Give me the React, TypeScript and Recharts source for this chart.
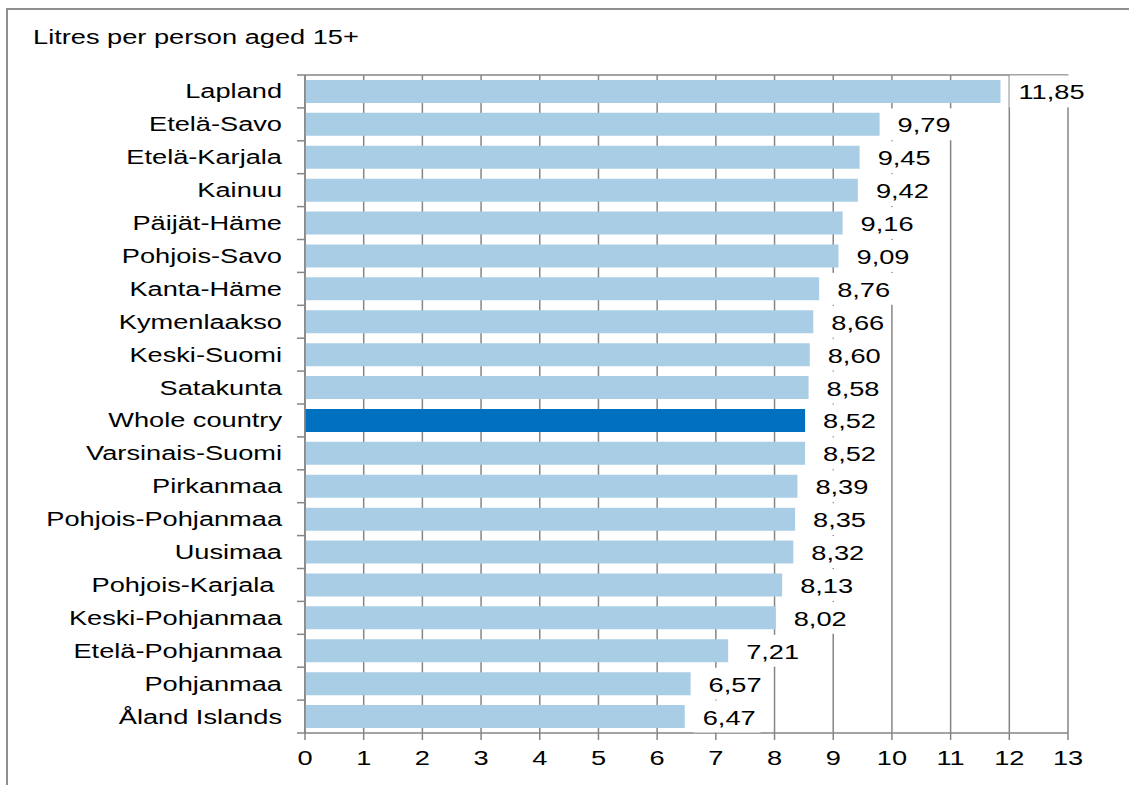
import { BarChart, Bar, XAxis, YAxis, CartesianGrid, Cell, LabelList } from "recharts";

const REGIONS = [
   "Lapland", "Etelä-Savo", "Etelä-Karjala", "Kainuu", "Päijät-Häme", "Pohjois-Savo",
   "Kanta-Häme", "Kymenlaakso", "Keski-Suomi", "Satakunta", "Whole country",
   "Varsinais-Suomi", "Pirkanmaa", "Pohjois-Pohjanmaa", "Uusimaa", "Pohjois-Karjala ",
   "Keski-Pohjanmaa", "Etelä-Pohjanmaa", "Pohjanmaa", "Åland Islands",
];
const LITRES = [
   11.85, 9.79, 9.45, 9.42, 9.16, 9.09, 8.76, 8.66, 8.6, 8.58, 8.52,
   8.52, 8.39, 8.35, 8.32, 8.13, 8.02, 7.21, 6.57, 6.47,
];
const HIGHLIGHT = "Whole country";
const X_TICKS = [0, 1, 2, 3, 4, 5, 6, 7, 8, 9, 10, 11, 12, 13];
const TITLE = "Litres per person aged 15+";

const W = 1129;
const H = 785;
const PLOT_LEFT = 305;
const PLOT_RIGHT = 1068;
const PLOT_TOP = 75;
const PLOT_BOTTOM = 733;
const BAND = (PLOT_BOTTOM - PLOT_TOP) / REGIONS.length;
const FONT = "'Liberation Sans', Arial, sans-serif";
const FS = 20;
const SX = 1.36; // text in the source is stretched horizontally
const GRID = "#858585";
const LIGHT = "#a9cde5";
const DARK = "#0070c0";

const data = REGIONS.map((region, i) => ({ region, litres: LITRES[i] }));

const fmt = (v: number) => v.toFixed(2).replace(".", ",");
const textWidth = (s: string) =>
   s.split("").reduce((acc, ch) => acc + (ch === "," ? 0.278 : 0.556), 0) * FS * SX;

function YTick({ y, payload, index }: any) {
   const top = y - BAND / 2;
   return (
      <g>
         <line x1={PLOT_LEFT - 8} x2={PLOT_LEFT} y1={top} y2={top} stroke={GRID} strokeWidth={1.5} />
         {index === REGIONS.length - 1 && (
            <line x1={PLOT_LEFT - 8} x2={PLOT_LEFT} y1={top + BAND} y2={top + BAND} stroke={GRID} strokeWidth={1.5} />
         )}
         <text
            transform={`translate(${PLOT_LEFT - 23},${y + 7}) scale(${SX},1)`}
            textAnchor="end"
            fontFamily={FONT}
            fontSize={FS}
            fill="#000"
            style={{ whiteSpace: "pre" }}
         >
            {payload.value}
         </text>
      </g>
   );
}

function XTick({ x, payload }: any) {
   return (
      <text
         transform={`translate(${x},${PLOT_BOTTOM + 32}) scale(${SX},1)`}
         textAnchor="middle"
         fontFamily={FONT}
         fontSize={FS}
         fill="#000"
      >
         {payload.value}
      </text>
   );
}

function ValueLabel({ x, y, width, height, value }: any) {
   const end = x + width;
   const cy = y + height / 2;
   const s = fmt(Number(value));
   const tw = textWidth(s);
   return (
      <g>
         <rect x={end + 9} y={cy - BAND / 2 + 0.5} width={tw + 14} height={BAND - 1} fill="#fff" />
         <text
            transform={`translate(${end + 18},${cy + 8}) scale(${SX},1)`}
            fontFamily={FONT}
            fontSize={FS}
            fill="#000"
         >
            {s}
         </text>
      </g>
   );
}

export default function App() {
   return (
      <div style={{ position: "fixed", left: 0, top: 0, width: W, height: H, overflow: "hidden", background: "#fff" }}>
         <div
            style={{
               position: "absolute", left: 6, top: 8, width: W + 40, height: H + 40,
               border: "2px solid #8f8f8f", boxSizing: "border-box",
            }}
         />
         <div
            style={{
               position: "absolute", left: 33, top: 27, fontFamily: FONT, fontSize: FS,
               lineHeight: "20px", color: "#000", transform: `scaleX(${SX})`, transformOrigin: "left",
               whiteSpace: "nowrap",
            }}
         >
            {TITLE}
         </div>
         <div style={{ position: "absolute", left: 0, top: 0 }}>
            <BarChart
               width={W}
               height={H}
               data={data}
               layout="vertical"
               margin={{ top: PLOT_TOP, right: W - PLOT_RIGHT, bottom: 0, left: 0 }}
               barCategoryGap="15%"
            >
               <CartesianGrid
                  stroke={GRID}
                  strokeWidth={1.5}
                  horizontalCoordinatesGenerator={({ offset }: any) => [offset.top]}
               />
               <XAxis
                  type="number"
                  domain={[0, 13]}
                  ticks={X_TICKS}
                  interval={0}
                  height={H - PLOT_BOTTOM}
                  axisLine={{ stroke: GRID, strokeWidth: 1.5 }}
                  tickLine={{ stroke: GRID, strokeWidth: 1.5 }}
                  tickSize={7}
                  tick={<XTick />}
               />
               <YAxis
                  type="category"
                  dataKey="region"
                  width={PLOT_LEFT}
                  interval={0}
                  axisLine={{ stroke: GRID, strokeWidth: 1.5 }}
                  tickLine={false}
                  tick={<YTick />}
               />
               <Bar dataKey="litres" isAnimationActive={false}>
                  {data.map((d, i) => (
                     <Cell key={`cell-${i}`} fill={d.region === HIGHLIGHT ? DARK : LIGHT} />
                  ))}
                  <LabelList dataKey="litres" content={<ValueLabel />} />
               </Bar>
            </BarChart>
         </div>
      </div>
   );
}
